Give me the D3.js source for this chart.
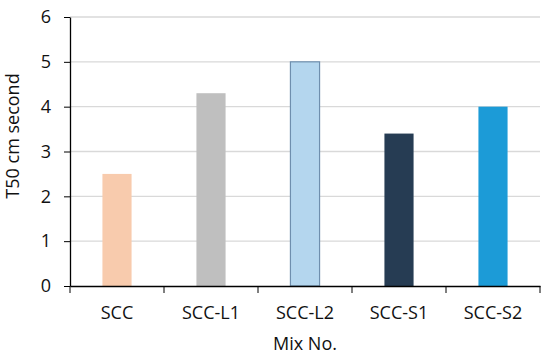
<!DOCTYPE html>
<meta charset="utf-8">
<head>
    <script src="https://d3js.org/d3.v7.min.js"></script>
</head>
<style>
body { margin: 0; background: #fff; }
text { font-family: "Open Sans", sans-serif; }
</style>
<body>
<svg></svg>
<script>

// chart data
let mixes = ["SCC", "SCC-L1", "SCC-L2", "SCC-S1", "SCC-S2"];
let t50 = [2.5, 4.3, 5.0, 3.4, 4.0];
let yTicks = [0, 1, 2, 3, 4, 5, 6];

let colors = ["#F8CBAD", "#BFBFBF", "#B4D6EE", "#263C53", "#1C9BD7"];
let strokes = ["none", "none", "#6F8FAE", "none", "none"];

let margin = {top: 17, right: 10, bottom: 72, left: 70};
let width = 550 - margin.left - margin.right;
let height = 358 - margin.top - margin.bottom;

let svg = d3.select("svg")
    .attr("width", 550)
    .attr("height", 358)
    .append("g")
    .attr("transform", "translate(" + margin.left + "," + margin.top + ")");

let x = d3.scaleBand().domain(mixes).range([0, width]).padding(0);
let y = d3.scaleLinear().domain([0, 6]).range([height, 0]);

// gridlines
svg.selectAll(".grid")
  .data(yTicks.filter(d => d > 0))
  .enter().append("line")
  .attr("x1", 0).attr("x2", width)
  .attr("y1", d => y(d)).attr("y2", d => y(d))
  .attr("stroke", "#D9D9D9")
  .attr("stroke-width", 1.3);

// bars
let barW = x.bandwidth() * 0.31;
svg.selectAll(".bar")
  .data(t50)
  .enter().append("rect")
  .attr("x", (d, i) => x(mixes[i]) + (x.bandwidth() - barW) / 2)
  .attr("y", d => y(d))
  .attr("width", barW)
  .attr("height", d => height - y(d))
  .attr("fill", (d, i) => colors[i])
  .attr("stroke", (d, i) => strokes[i])
  .attr("stroke-width", 1.2);

// y axis
let yAxis = svg.append("g")
  .call(d3.axisLeft(y).tickValues(yTicks).tickFormat(d3.format("d"))
    .tickSize(6).tickSizeOuter(0).tickPadding(13));
yAxis.selectAll("text").attr("font-size", 18).attr("fill", "#111");

// x axis with ticks on band edges
let xAxis = svg.append("g")
  .attr("transform", "translate(0," + height + ")")
  .call(d3.axisBottom(x).tickSize(0).tickSizeOuter(0).tickPadding(20));
xAxis.selectAll("text").attr("font-size", 18).attr("fill", "#111");
xAxis.selectAll(".edge")
  .data(d3.range(mixes.length + 1))
  .enter().append("line")
  .attr("x1", i => i * x.step()).attr("x2", i => i * x.step())
  .attr("y1", 0).attr("y2", 7)
  .attr("stroke", "#000");

svg.selectAll(".domain").attr("stroke", "#000").attr("stroke-width", 1.3);
svg.selectAll(".tick line").attr("stroke", "#000");

// axis titles
svg.append("text")
  .attr("x", width / 2)
  .attr("y", height + 64)
  .attr("text-anchor", "middle")
  .attr("font-size", 18)
  .attr("fill", "#111")
  .text("Mix No.");

svg.append("text")
  .attr("transform", "translate(-51,119) rotate(-90)")
  .attr("text-anchor", "middle")
  .attr("font-size", 18)
  .attr("fill", "#111")
  .text("T50 cm second");

</script>
</body>
